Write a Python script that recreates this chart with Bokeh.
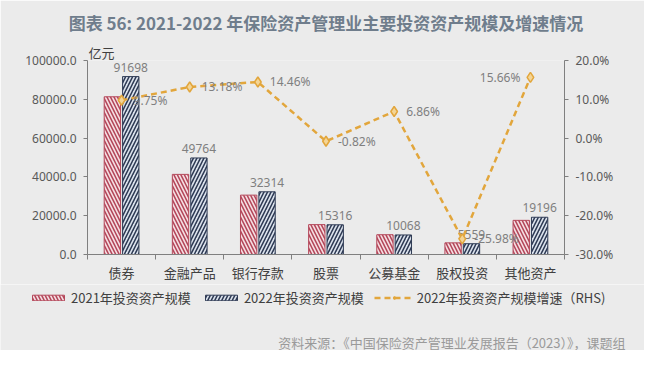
from bokeh.plotting import figure
from bokeh.models import (ColumnDataSource, Range1d, LinearAxis, Title, Label,
                          FixedTicker, NumeralTickFormatter, PrintfTickFormatter, Legend, LegendItem)
from bokeh.transform import dodge
from bokeh.core.properties import value
from bokeh.embed import file_html
from bokeh.resources import INLINE

categories = ["债券", "金融产品", "银行存款", "股票", "公募基金", "股权投资", "其他资产"]
scale_2021 = [81300, 41300, 30600, 15400, 10200, 6000, 17600]
scale_2022 = [91698, 49764, 32314, 15316, 10068, 5559, 19196]
growth_2022 = [9.75, 13.18, 14.46, -0.82, 6.86, -25.98, 15.66]
left_ticks = [0, 20000, 40000, 60000, 80000, 100000]
right_ticks = [-30, -20, -10, 0, 10, 20]

title_text = "图表 56: 2021-2022 年保险资产管理业主要投资资产规模及增速情况"
source_text = "资料来源：《中国保险资产管理业发展报告（2023）》，课题组"
unit_text = "亿元"
series_names = ["2021年投资资产规模", "2022年投资资产规模", "2022年投资资产规模增速（RHS)"]

BG = "#ebebeb"
CJK = "Noto Sans CJK SC"
NUM = "Noto Sans"
AX = "#7f7f7f"
LC = "#e2a63c"
S21 = dict(fill_color="#f6e0e4", line_color="#b4485b", line_width=1,
           hatch_pattern="\\", hatch_color="#b4485b", hatch_scale=7, hatch_weight=1.6)
S22 = dict(fill_color="#dde4ee", line_color="#2f3b55", line_width=1,
           hatch_pattern="/", hatch_color="#2f3b55", hatch_scale=7, hatch_weight=1.6)
SL = dict(line_color=LC, line_width=2.5, line_dash="6 4")
SM = dict(marker="diamond", size=10, fill_color="#f4d596", line_color=LC, line_width=1.5)

n = len(categories)
cat_x = [i + 0.5 for i in range(n)]  # category centres on a numeric axis
last = n - 1

src = ColumnDataSource(dict(
    x=cat_x, v21=scale_2021, v22=scale_2022, g=growth_2022,
    v22_lbl=[str(v) for v in scale_2022],
    g_lbl=["%.2f%%" % v for v in growth_2022],
    g_align=["left" if i < last else "right" for i in range(n)],
    g_dx=[12 if i < last else -10 for i in range(n)],
))

p = figure(width=644, height=284, x_range=Range1d(0, n), y_range=Range1d(0, 100000),
           output_backend="svg", toolbar_location=None, title=None,
           x_axis_location=None, y_axis_location=None,
           min_border_left=87, min_border_right=80, min_border_top=54, min_border_bottom=30,
           background_fill_color=BG, border_fill_color=BG, outline_line_color=None)
p.xgrid.visible = False
p.ygrid.visible = False
p.extra_y_ranges = {"pct": Range1d(-30, 20)}

left = LinearAxis(ticker=FixedTicker(ticks=left_ticks), formatter=NumeralTickFormatter(format="0.0"))
right = LinearAxis(y_range_name="pct", ticker=FixedTicker(ticks=right_ticks),
                   formatter=PrintfTickFormatter(format="%.1f%%"))
for ax in (left, right):
    ax.axis_line_color = AX
    ax.major_tick_line_color = AX
    ax.major_tick_out = 4
    ax.major_tick_in = 0
    ax.minor_tick_line_color = None
    ax.major_label_text_font = NUM
    ax.major_label_text_font_size = "12px"
    ax.major_label_text_color = "#595959"
    ax.major_label_standoff = 7
p.add_layout(left, "left")
p.add_layout(right, "right")

# category names at the centres, tick marks between categories (minor ticks)
catax = LinearAxis(ticker=FixedTicker(ticks=cat_x, minor_ticks=list(range(n + 1))),
                   major_label_overrides={x: c for x, c in zip(cat_x, categories)})
catax.axis_line_color = AX
catax.major_tick_line_color = None
catax.minor_tick_line_color = AX
catax.minor_tick_out = 5
catax.minor_tick_in = 0
catax.major_tick_out = 5
catax.major_tick_in = 0
catax.major_label_text_font = CJK
catax.major_label_text_font_size = "13px"
catax.major_label_text_color = "#404040"
catax.major_label_standoff = 3
p.add_layout(catax, "below")

p.vbar(x=dodge("x", -0.135), top="v21", width=0.24, source=src, **S21)
p.vbar(x=dodge("x", 0.135), top="v22", width=0.24, source=src, **S22)

p.text(x=dodge("x", 0.135), y="v22", text="v22_lbl", source=src,
       text_font=value(NUM), text_font_size="12px", text_color="#7f7f7f",
       text_align="center", text_baseline="bottom", y_offset=-5)

p.line(x="x", y="g", y_range_name="pct", source=src, **SL)
p.scatter(x="x", y="g", y_range_name="pct", source=src, **SM)
p.text(x="x", y="g", y_range_name="pct", text="g_lbl", source=src,
       text_font=value(NUM), text_font_size="12px", text_color="#7f7f7f",
       text_align="g_align", text_baseline="middle", x_offset="g_dx")

p.add_layout(Title(text=unit_text, text_font=CJK, text_font_size="13px", text_font_style="normal",
                   text_color="#404040", align="left", offset=1, standoff=-2), "above")
p.add_layout(Title(text=title_text, text_font=CJK, text_font_size="17px", text_font_style="bold",
                   text_color="#6f7d8c", align="center", standoff=14), "above")

# second strip: legend and source note (page pixels minus the 8px margin)
q = figure(width=644, height=66, x_range=Range1d(0, 644), y_range=Range1d(0, 66),
           output_backend="svg", toolbar_location=None, title=None,
           x_axis_location=None, y_axis_location=None,
           min_border_left=0, min_border_right=0, min_border_top=0, min_border_bottom=0,
           background_fill_color=BG, border_fill_color=BG, outline_line_color=None)
q.xgrid.visible = False
q.ygrid.visible = False
proxy = ColumnDataSource(dict(x=[-1000], y=[0]))  # off-screen stand-ins for the legend keys
r21 = q.vbar(x="x", top="y", width=1, source=proxy, **S21)
r22 = q.vbar(x="x", top="y", width=1, source=proxy, **S22)
rl = q.line(x="x", y="y", source=proxy, **SL)
rm = q.scatter(x="x", y="y", source=proxy, **SM)

legend = Legend(items=[LegendItem(label=series_names[0], renderers=[r21]),
                       LegendItem(label=series_names[1], renderers=[r22]),
                       LegendItem(label=series_names[2], renderers=[rl, rm])],
                location=(28, 43), orientation="horizontal",
                glyph_width=40, glyph_height=7, label_standoff=3, spacing=10,
                padding=0, margin=0, border_line_color=None, background_fill_alpha=0,
                label_text_font=CJK, label_text_font_size="13px", label_text_color="#404040")
q.add_layout(legend, "center")
q.add_layout(Label(x=625, y=8, text=source_text, text_font=CJK, text_font_size="13px",
                   text_color="#9a9a9a", text_align="right", text_baseline="middle"))

html = file_html([p, q], INLINE)
open("out.html", "w").write(html)
